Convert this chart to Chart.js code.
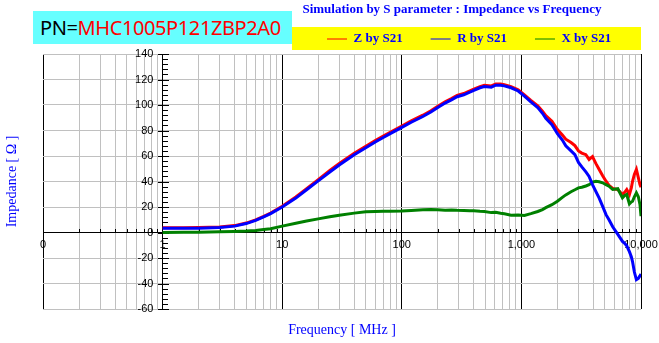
<!DOCTYPE html>
<html>
<head>
<meta charset="utf-8">
<title>Impedance vs Frequency</title>
<script src="https://cdn.jsdelivr.net/npm/chart.js@4.4.1/dist/chart.umd.min.js"></script>
<style>
    body { margin: 0; background: #fff; }
    #wrap { position: relative; width: 659px; height: 343px; }
    #pn {
        position: absolute; left: 33px; top: 11px; width: 259px; height: 33px;
        box-sizing: border-box; padding-left: 7px; background: #66ffff;
        font: 20px 'Noto Sans', sans-serif; line-height: 33px; letter-spacing: -0.4px; color: #000;
    }
    #pn span { color: #ff0000; }
</style>
</head>
<body>
<div id="wrap">
    <canvas id="impedanceChart" width="659" height="343"></canvas>
    <div id="pn">PN=<span>MHC1005P121ZBP2A0</span></div>
</div>
<script>
// Frecuencia en MHz
const freq = [1, 1.5, 2, 3, 4, 5, 6, 7, 8, 10,
    13, 16, 20, 25, 30, 40, 50, 60, 70, 80,
    100, 120, 150, 175, 200, 230, 260, 290, 330, 370,
    400, 450, 490, 560, 610, 670, 720, 820, 940, 1060,
    1200, 1370, 1500, 1600, 1800, 2000, 2200, 2350, 2600, 2800,
    3000, 3200, 3460, 3680, 3930, 4200, 4470, 4780, 5100, 5400,
    5800, 6400, 7000, 7300, 7600, 8000, 8300, 8500, 8800, 9150,
    9500, 9800, 10000];

// Z by S21 (ohm)
const zImp = [3.8, 3.8, 3.9, 4.3, 5.4, 7.4, 9.9, 12.7, 15.3, 20.6,
    27.8, 34.4, 41.5, 48.6, 54.1, 62.1, 67.6, 72.1, 75.6, 78.6,
    83.5, 87.5, 92, 95.5, 99, 102.5, 105, 107.5, 109, 111,
    112.5, 114.4, 115.4, 115, 116.4, 116.4, 115.9, 114.4, 111.9, 108,
    103.6, 99.4, 95.2, 91.6, 87.2, 80.8, 76.5, 73.2, 70.6, 68.2,
    64, 62.3, 61, 57.3, 59.5, 54, 49.4, 44.5, 40.2, 37,
    34.5, 33.7, 29.8, 31.5, 33.7, 29.8, 35, 40.2, 45.5, 49.4,
    43, 37.6, 35.5];

// R by S21 (ohm)
const rImp = [3.3, 3.3, 3.4, 3.9, 5.0, 7.0, 9.5, 12.2, 14.8, 20.0,
    27, 33.5, 40.5, 47.5, 53, 61, 66.5, 71, 74.5, 77.5,
    82.5, 86.5, 91, 94.5, 98, 101.5, 104, 106.5, 108, 110,
    111.5, 113.5, 114.5, 114, 115.5, 115.5, 115, 113.5, 111, 107,
    102.5, 98, 93.5, 89.5, 84.5, 77.5, 72.5, 68, 64, 61,
    55, 51.5, 47.5, 44, 37.5, 32, 27, 20.5, 14, 10,
    4.5, -1.5, -7, -8.5, -10.5, -15, -19, -23, -31, -37,
    -36, -34, -32.5];

// X by S21 (ohm)
const xImp = [0, 0.1, 0.2, 0.5, 0.8, 1.1, 1.6, 2.3, 3.0, 5.0,
    7.2, 9.0, 10.7, 12.3, 13.6, 15.2, 16.2, 16.5, 16.6, 16.7,
    16.8, 17.2, 17.8, 18, 17.8, 17.5, 17.6, 17.4, 17.3, 17.1,
    17, 16.6, 16.4, 15.6, 15.8, 15.1, 14.7, 13.6, 13.8, 13.4,
    14.8, 16.5, 18, 19.5, 21.8, 24.5, 27.5, 29.5, 32, 33.5,
    35, 35.5, 36.5, 37.5, 39.5, 40.2, 39.8, 39, 37.5, 36.3,
    33.7, 34.3, 27.2, 29, 29.8, 22.5, 24, 24.5, 28, 31.1,
    28, 22, 12.8];

// Etiquetas del eje X (decadas)
const decadeValues = [0.1, 1, 10, 100, 1000, 10000];
const decadeLabels = ['0', '1', '10', '100', '1,000', '10,000'];

// Eje Y
const yMin = -60;
const yMax = 140;
const yStep = 20;
const yMinorStep = 4;

// Ticks del eje log: 1..9 en cada decada
const xTickValues = [];
decadeValues.forEach((d, i) => {
    const last = i === decadeValues.length - 1;
    for (let m = 1; m <= (last ? 1 : 9); m++) {
        xTickValues.push(+(d * m).toPrecision(6));
    }
});

const serif = "'Liberation Serif', 'Times New Roman', serif";
const tickFont = { family: "'Liberation Sans', Arial, sans-serif", size: 11 };

// Fondo amarillo de la leyenda y posicion del titulo / leyenda
const cajas = {
    id: 'cajas',
    beforeDraw(chart) {
        const ctx = chart.ctx;
        ctx.save();
        ctx.fillStyle = '#ffff00';
        ctx.fillRect(292, 27, 349, 23);
        ctx.restore();

        const lg = chart.legend;
        const pad = lg.options.labels.padding;
        lg.left = 327 - pad;
        lg.right = 659;
        lg.top = 39 - pad - 6.5;
        lg.bottom = 52;

        const tb = chart.titleBlock;
        tb.left = 292;
        tb.right = 612;
        tb.top = 9.5 - 7.8;
        tb.bottom = tb.top + 15.6;
    }
};

// Marcas menores de los ejes
const marcas = {
    id: 'marcas',
    beforeDatasetsDraw(chart) {
        const { ctx, scales: { x, y } } = chart;
        const x0 = Math.round(x.getPixelForValue(1));
        const y0 = Math.round(y.getPixelForValue(0));
        ctx.save();
        ctx.strokeStyle = '#000';
        ctx.lineWidth = 1;
        ctx.beginPath();
        for (let v = yMin; v <= yMax; v += yMinorStep) {
            const py = Math.round(y.getPixelForValue(v)) + 0.5;
            if (v % yStep === 0) {
                ctx.moveTo(x0 - 5, py);
                ctx.lineTo(x0 + 6, py);
            } else {
                ctx.moveTo(x0, py);
                ctx.lineTo(x0 + 5, py);
            }
        }
        xTickValues.forEach(v => {
            if (decadeValues.includes(v)) return;
            const px = Math.round(x.getPixelForValue(v)) + 0.5;
            ctx.moveTo(px, y0);
            ctx.lineTo(px, y0 - 4);
        });
        ctx.stroke();
        ctx.restore();
    }
};

const toPoints = vals => freq.map((f, i) => ({ x: f, y: vals[i] }));

new Chart(document.getElementById('impedanceChart'), {
    type: 'line',
    data: {
        datasets: [
            { label: 'Z by S21', data: toPoints(zImp), borderColor: '#ff0000', backgroundColor: '#ff0000', order: 2 },
            { label: 'R by S21', data: toPoints(rImp), borderColor: '#0000ff', backgroundColor: '#0000ff', order: 0 },
            { label: 'X by S21', data: toPoints(xImp), borderColor: '#008000', backgroundColor: '#008000', order: 1 }
        ]
    },
    options: {
        responsive: false,
        animation: false,
        devicePixelRatio: 1,
        elements: {
            point: { radius: 0 },
            line: { borderWidth: 3, tension: 0 }
        },
        layout: { padding: { top: 0, right: 18, bottom: 0, left: 0 } },
        plugins: {
            title: {
                display: true,
                text: 'Simulation by S parameter : Impedance vs Frequency',
                color: '#0000ff',
                font: { family: serif, size: 13, weight: 'bold', lineHeight: 1.2 },
                padding: 0
            },
            legend: {
                display: true,
                position: 'top',
                align: 'start',
                maxHeight: 38.4,
                labels: {
                    color: '#0000ff',
                    font: { family: serif, size: 13, weight: 'bold' },
                    usePointStyle: true,
                    pointStyle: 'line',
                    pointStyleWidth: 20,
                    padding: 28,
                    sort: (a, b) => a.datasetIndex - b.datasetIndex
                }
            },
            tooltip: { enabled: false }
        },
        scales: {
            x: {
                type: 'logarithmic',
                min: 0.1,
                max: 10000,
                position: { y: 0 },
                afterBuildTicks: s => { s.ticks = xTickValues.map(v => ({ value: v })); },
                afterFit: s => { s.paddingLeft = 0; s.paddingRight = 0; },
                ticks: {
                    autoSkip: false,
                    maxRotation: 0,
                    padding: 6,
                    color: '#000',
                    font: tickFont,
                    callback: v => {
                        const i = decadeValues.indexOf(v);
                        return i >= 0 ? decadeLabels[i] : '';
                    }
                },
                grid: {
                    color: c => (c.tick && decadeValues.includes(c.tick.value)) ? '#000' : '#c0c0c0',
                    drawTicks: false
                },
                border: { color: '#000' }
            },
            y: {
                type: 'linear',
                min: yMin,
                max: yMax,
                position: { x: 1 },
                ticks: {
                    stepSize: yStep,
                    color: '#000',
                    font: tickFont,
                    // el eje centrado no usa padding: se separa con espacios
                    callback: v => v + '   '
                },
                grid: { color: '#c0c0c0', drawTicks: false },
                border: { color: '#000' }
            },
            yTitle: {
                type: 'linear',
                position: 'left',
                ticks: { display: false },
                grid: { display: false },
                border: { display: false },
                title: { display: true, text: 'Impedance [ Ω ]', color: '#0000ff', font: { family: serif, size: 14 } },
                afterFit: s => { s.width = 43; }
            },
            xTitle: {
                type: 'linear',
                position: 'bottom',
                ticks: { display: false },
                grid: { display: false },
                border: { display: false },
                title: { display: true, text: 'Frequency [ MHz ]', color: '#0000ff', font: { family: serif, size: 14 } },
                afterFit: s => { s.height = 34; }
            }
        }
    },
    plugins: [cajas, marcas]
});
</script>
</body>
</html>
